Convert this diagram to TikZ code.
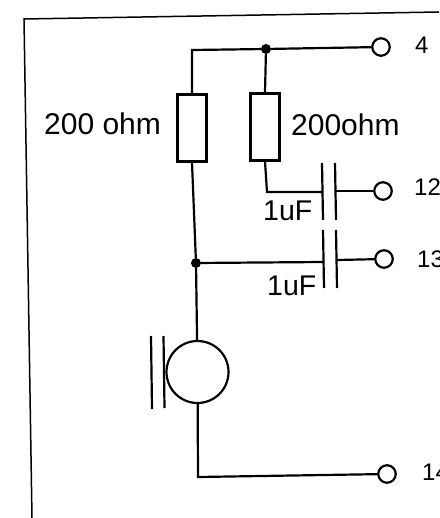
\documentclass[tikz,border=0pt]{standalone}
\usepackage{fontspec}
\setmainfont{Liberation Sans}
\tikzset{
  x=1pt,y=-1pt,
  wire/.style={line width=2.2pt,black},
  frameline/.style={line width=1.5pt,black},
  plate/.style={line width=2.2pt,black},
  resistor/.style={draw,line width=2.2pt,rectangle,minimum width=29pt,minimum height=67pt,inner sep=0pt,fill=white},
  terminal/.style={draw,line width=2.2pt,circle,minimum size=17.5pt,inner sep=0pt,fill=white},
  junction/.style={circle,fill=black,minimum size=10pt,inner sep=0pt},
  mic/.style={draw,line width=2.2pt,circle,minimum size=62pt,inner sep=0pt},
  bigtext/.style={font=\fontsize{30}{30}\selectfont,inner sep=0pt},
  captext/.style={font=\fontsize{28.5}{28.5}\selectfont,inner sep=0pt},
  pintext/.style={font=\fontsize{24}{24}\selectfont,inner sep=0pt,anchor=west},
}
\begin{document}
\begin{tikzpicture}
\useasboundingbox[fill=white] (0,0) rectangle (439,518);
% frame
\coordinate (fa) at (439,12);
\coordinate (fb) at (24,19);
\coordinate (fc) at (32,518);
\draw[frameline] (fa) -- (fb) -- (fc);
% components
\node[resistor] (r1) at (192,128) {};
\node[resistor] (r2) at (265,127) {};
\node[junction] (j1) at (266,49) {};
\node[junction] (j2) at (196,263) {};
\node[terminal] (t4) at (381,47) {};
\node[terminal] (t12) at (383,191) {};
\node[terminal] (t13) at (384,259) {};
\node[terminal] (t14) at (387,474) {};
\node[mic] (m) at (197.5,372) {};
% capacitor plates
\coordinate (c1a) at (322,163);
\coordinate (c1b) at (323,220);
\coordinate (c1c) at (335,163);
\coordinate (c1d) at (336,220);
\coordinate (c2a) at (323,230);
\coordinate (c2b) at (324,288);
\coordinate (c2c) at (336,230);
\coordinate (c2d) at (337,288);
\draw[plate] (c1a) -- (c1b);
\draw[plate] (c1c) -- (c1d);
\draw[plate] (c2a) -- (c2b);
\draw[plate] (c2c) -- (c2d);
% microphone plates
\coordinate (m1a) at (151,336);
\coordinate (m1b) at (152,409);
\coordinate (m2a) at (163.5,336);
\coordinate (m2b) at (164.5,408);
\draw[plate] (m1a) -- (m1b);
\draw[plate] (m2a) -- (m2b);
% wires
\coordinate (w1) at (192,50);
\coordinate (w2) at (267,192);
\coordinate (w3) at (322.5,192);
\coordinate (w4) at (336,191);
\coordinate (w5) at (323.5,262);
\coordinate (w6) at (337,260);
\coordinate (w7) at (198,477);
\draw[wire,line cap=rect] (r1.north) -- (w1) -- (j1);
\draw[wire] (j1) -- (t4);
\draw[wire] (j1) -- (r2.north);
\draw[wire,line join=miter] (r2.south) -- (w2) -- (w3);
\draw[wire] (w4) -- (t12);
\draw[wire] (r1.south) -- (j2);
\draw[wire] (j2) -- (w5);
\draw[wire] (w6) -- (t13);
\draw[wire] (j2) -- (m);
\draw[wire] (m) -- (w7) -- (t14);
% labels
\node[bigtext,anchor=west] (l1) at (44,124) {200 ohm};
\node[bigtext,anchor=west] (l2) at (291,125) {200ohm};
\node[captext,anchor=west] (l3) at (263,211) {1uF};
\node[captext,anchor=west] (l4) at (267,286) {1uF};
\node[pintext] (p4) at (415,45) {4};
\node[pintext] (p12) at (414,187) {12};
\node[pintext] (p13) at (417,259) {13};
\node[pintext] (p14) at (422,472) {14};
\end{tikzpicture}
\end{document}
